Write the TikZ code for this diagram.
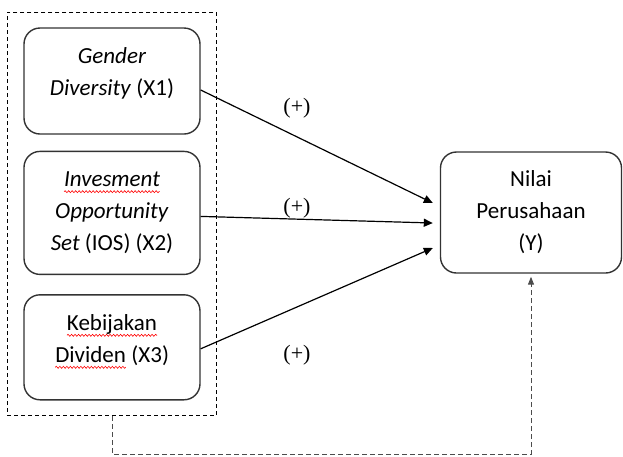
\documentclass[tikz,border=0pt]{standalone}
\usepackage{fontspec}
\setmainfont{Carlito}
\newfontfamily\signfont{Liberation Serif}
\usetikzlibrary{positioning,fit,arrows.meta,decorations.pathmorphing}

% red spell-check wave under a word
\newcommand{\redwave}[1]{\tikz[baseline=(w.base),sharp corners,solid]{%
    \node[inner sep=0pt,outer sep=0pt,minimum width=0pt,minimum height=0pt,draw=none] (w) {#1};
    \draw[red,line width=0.6pt,decorate,decoration={snake,amplitude=1pt,segment length=3.5pt}]
      ([yshift=-5pt]w.base west) -- ([yshift=-5pt]w.base east);}}

\begin{document}
\begin{tikzpicture}[x=1pt,y=1pt,
    varbox/.style={draw=black!80,line width=1.4pt,rounded corners=16pt,align=center,
      font=\fontsize{23}{32}\selectfont},
    effect/.style={-{Triangle[length=9pt,width=8pt]},line width=1.2pt},
    sign/.style={font=\signfont\fontsize{22}{26}\selectfont}]
  \useasboundingbox (0,0) rectangle (623,-456);

  \node[varbox,minimum width=176pt,minimum height=106pt] (x1) at (112,-81)
    {\textit{Gender}\\\textit{Diversity} (X1)\\[-14pt]\mbox{}};
  \node[varbox,minimum width=176pt,minimum height=123pt,below=16pt of x1] (x2)
    {\textit{\redwave{Invesment}}\\\textit{Opportunity}\\\textit{Set} (IOS) (X2)};
  \node[varbox,minimum width=176pt,minimum height=105pt,below=19pt of x2] (x3)
    {\redwave{Kebijakan}\\\redwave{Dividen} (X3)\\[-14pt]\mbox{}};
  \node[varbox,minimum width=181pt,minimum height=121pt] (y) at (531,-212.5)
    {Nilai\\Perusahaan\\(Y)};

  \node[fit=(x1)(x2)(x3),draw,line width=1pt,dash pattern=on 4pt off 3pt,
    inner xsep=16pt,inner ysep=15pt] (frame) {};

  \draw[effect] ([yshift=-9pt]x1.east) -- ([xshift=-7pt,yshift=9.5pt]y.west);
  \draw[effect] ([yshift=-3.5pt]x2.east) -- ([xshift=-7pt,yshift=-10.5pt]y.west);
  \draw[effect] ([yshift=-1.5pt]x3.east) -- ([xshift=-7pt,yshift=-35.5pt]y.west);

  \node[sign] (s1) at (297,-108) {(+)};
  \node[sign] (s2) at (297,-208) {(+)};
  \node[sign] (s3) at (297,-355) {(+)};

  \coordinate (fb) at (116,-454);
  \draw[-{Triangle[length=8pt,width=6pt]},draw=black!70,line width=1pt,
    dash pattern=on 5pt off 3pt,shorten >=3pt]
    (frame.south) |- (fb) -| (y.south);
\end{tikzpicture}
\end{document}
